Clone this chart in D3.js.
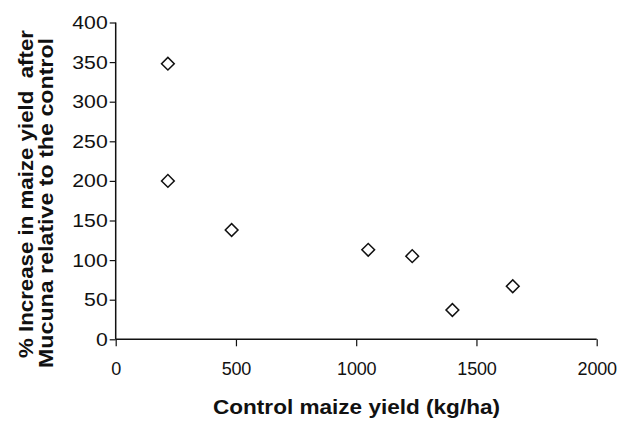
<!DOCTYPE html>
<html><head><meta charset="utf-8">
<script src="https://cdn.jsdelivr.net/npm/d3@7"></script>
<style>body{margin:0;background:#fff}svg{display:block}text{font-family:Arial,"Liberation Sans",sans-serif;fill:#111}</style>
</head><body><svg id="c" width="620" height="425"></svg>
<script>
const xValues = [217, 217, 482, 1050, 1233, 1400, 1651];
const yValues = [348, 200, 138, 113, 105, 37, 67];
const xTicks = [0, 500, 1000, 1500, 2000];
const yTicks = [0, 50, 100, 150, 200, 250, 300, 350, 400];
const xTitle = "Control maize yield (kg/ha)";
const yTitle = ["% Increase in maize yield  after", "Mucuna relative to the control"];

const svg = d3.select("#c");
const x = d3.scaleLinear().domain([0, 2000]).range([115.7, 596.7]);
const y = d3.scaleLinear().domain([0, 400]).range([339.3, 22.5]);

const gx = svg.append("g").attr("transform", `translate(0,${y(0)})`)
  .call(d3.axisBottom(x).tickValues(xTicks).tickSize(7).tickPadding(16).tickFormat(d3.format("d")));
const gy = svg.append("g").attr("transform", `translate(${x(0)},0)`)
  .call(d3.axisLeft(y).tickValues(yTicks).tickSize(6).tickPadding(2).tickFormat(d3.format("d")));
[gx, gy].forEach(g => {
  g.attr("font-size", null).attr("font-family", null);
  g.select(".domain").attr("stroke", "#111").attr("stroke-width", 1.5);
  g.selectAll(".tick line").attr("stroke", "#111").attr("stroke-width", 1.2);
  g.selectAll(".tick text").attr("fill", "#111");
});
gx.selectAll(".tick text").style("font-size", "18px").attr("letter-spacing", -0.2);
gy.selectAll(".tick text").style("font-size", "18.5px")
  .attr("textLength", d => String(d).length * 11.8).attr("lengthAdjust", "spacingAndGlyphs");
gy.select(".domain").attr("d", `M0,${y(400)}V${y(0)}`);
gx.select(".domain").attr("d", `M${x(0)},0H${x(2000)}`);

const pts = xValues.map((v, i) => [v, yValues[i]]);
svg.append("g").selectAll("path").data(pts).join("path")
  .attr("d", d3.symbol(d3.symbolSquare, 81)())
  .attr("transform", d => `translate(${x(d[0])},${y(d[1])}) rotate(45)`)
  .attr("fill", "#fff").attr("stroke", "#111").attr("stroke-width", 1.5);

svg.append("text").attr("x", 356.5).attr("y", 414).attr("text-anchor", "middle")
  .attr("font-size", 21).attr("font-weight", "bold")
  .attr("textLength", 287).attr("lengthAdjust", "spacingAndGlyphs").text(xTitle);

const yt = svg.append("g").attr("transform", "translate(0,197) rotate(-90)");
yt.append("text").attr("x", 3).attr("y", 33).attr("text-anchor", "middle")
  .attr("font-size", 20.5).attr("font-weight", "bold").style("white-space", "pre")
  .attr("textLength", 328).attr("lengthAdjust", "spacingAndGlyphs").text(yTitle[0]);
yt.append("text").attr("x", -6).attr("y", 53).attr("text-anchor", "middle")
  .attr("font-size", 20.5).attr("font-weight", "bold")
  .attr("textLength", 330).attr("lengthAdjust", "spacingAndGlyphs").text(yTitle[1]);
</script></body></html>
